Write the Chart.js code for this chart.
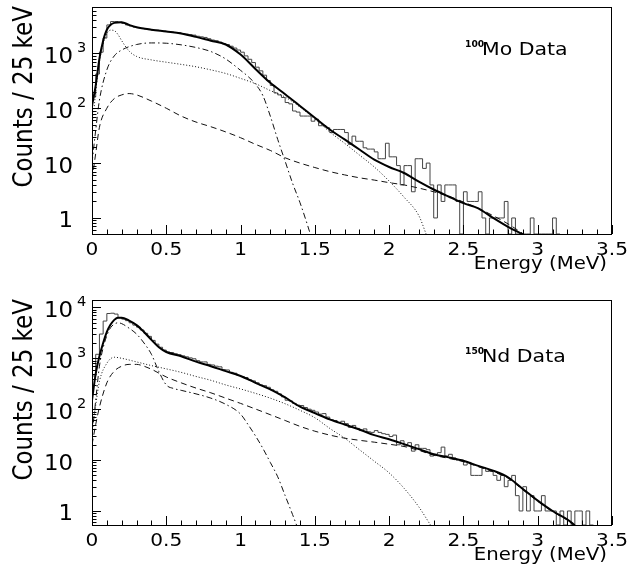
<!DOCTYPE html>
<html lang="en">
  <head>
    <meta charset="UTF-8" />
    <title>100Mo and 150Nd energy spectra</title>
    <script src="https://cdn.jsdelivr.net/npm/chart.js"></script>
    <style>
      * {
        margin: 0;
        padding: 0;
        box-sizing: border-box;
      }
      body {
        background-color: #ffffff;
        width: 631px;
        height: 581px;
        overflow: hidden;
      }
      canvas {
        display: block;
      }
    </style>
  </head>
  <body>
    <canvas id="moChart" width="631" height="290"></canvas>
    <canvas id="ndChart" width="631" height="291"></canvas>

    <script>
      // histogram bin width (MeV), counts per 25 keV bin starting at 0
      const binWidth = 0.025;

      const xTicks = [0, 0.5, 1, 1.5, 2, 2.5, 3, 3.5];
      const xTickLabels = ["0", "0.5", "1", "1.5", "2", "2.5", "3", "3.5"];
      const moYTicks = [1, 10, 100, 1000];
      const moYTickLabels = ["1", "10", "10^2", "10^3"];
      const ndYTicks = [1, 10, 100, 1000, 10000];
      const ndYTickLabels = ["1", "10", "10^2", "10^3", "10^4"];

      // ---- 100Mo ----
      const moCounts = [
        160, 420, 1050, 1900, 3300, 3800, 3800, 3700, 3500, 3300,
        3150, 3000, 2950, 2850, 2800, 2700, 2650, 2650, 2600, 2550,
        2500, 2450, 2400, 2380, 2300, 2250, 2200, 2150, 2050, 2000,
        1950, 1850, 1750, 1700, 1600, 1500, 1450, 1350, 1250, 1150,
        1050, 900, 780, 680, 560, 480, 400, 320, 260, 190,
        175, 157, 127, 120, 89, 85, 72, 72, 72, 58,
        63, 48, 48, 44, 36, 41, 41, 41, 36, 22,
        31, 25, 25, 19, 18, 18, 16, 12, 12, 23,
        13, 13, 9, 4, 9, 9, 3, 12, 12, 8,
        10, 4, 1, 4, 2, 4, 4, 4, 2, 0,
        3, 2, 2, 2, 3, 1, 0, 1, 1, 1,
        1, 2, 0, 1, 0, 0, 0, 0, 1, 0,
        0, 0, 0, 0, 1, 0,
      ];

      const moTotalE = [0, 0.025, 0.05, 0.075, 0.1, 0.15, 0.2, 0.25, 0.3, 0.4, 0.5, 0.6, 0.7, 0.8, 0.9, 1.0, 1.1, 1.2, 1.3, 1.4, 1.5, 1.6, 1.7, 1.8, 1.9, 2.0, 2.1, 2.2, 2.3, 2.4, 2.5, 2.6, 2.7, 2.8, 2.9];
      const moTotal = [110, 260, 800, 1700, 2700, 3600, 3700, 3300, 3000, 2700, 2500, 2300, 2000, 1700, 1450, 950, 520, 290, 180, 110, 67, 41, 27, 17.7, 11.6, 8.5, 6.6, 4.6, 3.3, 2.46, 1.86, 1.5, 1.0, 0.69, 0.5];

      const moDottedE = [0, 0.025, 0.05, 0.075, 0.1, 0.125, 0.15, 0.175, 0.2, 0.25, 0.3, 0.4, 0.5, 0.6, 0.7, 0.8, 0.9, 1.0, 1.1, 1.2, 1.3, 1.4, 1.5, 1.6, 1.7, 1.8, 1.9, 2.0, 2.1, 2.2, 2.25];
      const moDotted = [40, 200, 700, 1500, 2300, 2650, 2600, 2200, 1700, 1100, 880, 760, 690, 630, 570, 500, 430, 350, 280, 210, 160, 105, 64, 37, 23, 14, 8.5, 4.7, 2.4, 1.1, 0.5];

      const moDashDotE = [0, 0.025, 0.05, 0.1, 0.15, 0.2, 0.3, 0.4, 0.5, 0.6, 0.7, 0.8, 0.9, 1.0, 1.05, 1.1, 1.15, 1.2, 1.25, 1.3, 1.35, 1.4, 1.45, 1.47];
      const moDashDot = [10, 40, 140, 500, 900, 1150, 1450, 1550, 1530, 1430, 1280, 1080, 790, 490, 380, 276, 170, 72, 27, 10.8, 4.3, 1.9, 0.75, 0.5];

      const moDashedE = [0, 0.025, 0.05, 0.1, 0.15, 0.2, 0.25, 0.3, 0.4, 0.5, 0.6, 0.7, 0.8, 0.9, 1.0, 1.1, 1.2, 1.3, 1.4, 1.5, 1.6, 1.7, 1.8, 1.9, 2.0, 2.1, 2.2, 2.3, 2.4, 2.5, 2.6, 2.7, 2.8, 2.9];
      const moDashed = [5, 15, 45, 100, 150, 175, 185, 175, 135, 100, 72, 56, 46, 37, 29, 22, 17, 12.5, 10, 8.3, 7, 6.1, 5.4, 4.9, 4.4, 4.0, 3.5, 3.0, 2.5, 1.95, 1.5, 1.1, 0.78, 0.52];

      // ---- 150Nd ----
      const ndCounts = [
        450, 1200, 3000, 5400, 7600, 7700, 7400, 6300, 5900, 5500,
        5000, 4500, 4100, 3600, 3100, 2700, 2250, 1900, 1650, 1450,
        1330, 1300, 1230, 1180, 1120, 1070, 1020, 980, 900, 850,
        850, 760, 740, 700, 680, 600, 590, 530, 510, 460,
        440, 420, 380, 360, 330, 300, 290, 270, 240, 225,
        200, 175, 150, 145, 130, 120, 118, 108, 100, 95,
        88, 80, 82, 70, 62, 60, 55, 58, 52, 44,
        48, 42, 38, 41, 36, 35, 38, 35, 33, 32,
        29, 31, 20, 24, 19, 22, 15, 20, 17, 17,
        16, 12, 13, 14, 18, 12, 13, 11, 10, 10,
        8, 9, 5, 5, 5, 7, 6, 6, 5, 4,
        5, 3, 4, 5, 2, 1, 3, 1, 2, 1,
        1, 2, 1, 1, 1, 0, 1, 0, 1, 0,
        1, 1, 0, 1, 0,
      ];

      const ndTotalE = [0, 0.025, 0.05, 0.075, 0.1, 0.125, 0.15, 0.175, 0.2, 0.25, 0.3, 0.35, 0.4, 0.45, 0.5, 0.6, 0.7, 0.8, 0.9, 1.0, 1.1, 1.2, 1.3, 1.4, 1.5, 1.6, 1.7, 1.8, 1.9, 2.0, 2.1, 2.2, 2.3, 2.4, 2.5, 2.6, 2.7, 2.8, 2.9, 3.0, 3.1, 3.2, 3.25];
      const ndTotal = [150, 500, 1100, 2000, 3300, 4600, 5700, 6300, 6300, 5500, 4500, 3300, 2300, 1650, 1330, 1100, 860, 700, 560, 450, 330, 245, 170, 112, 84, 63, 50, 40, 31, 25.7, 20.6, 16.4, 13, 11.3, 9.7, 7.7, 6.2, 4.6, 2.7, 1.6, 1.0, 0.68, 0.52];

      const ndDottedE = [0, 0.025, 0.05, 0.1, 0.15, 0.2, 0.3, 0.4, 0.5, 0.6, 0.7, 0.8, 0.9, 1.0, 1.1, 1.2, 1.3, 1.4, 1.5, 1.6, 1.7, 1.8, 1.9, 2.0, 2.1, 2.2, 2.28];
      const ndDotted = [40, 120, 350, 800, 1050, 1000, 850, 720, 620, 530, 440, 370, 300, 250, 205, 165, 128, 95, 68, 42, 27, 16, 9.5, 5.6, 2.8, 1.2, 0.52];

      const ndDashDotE = [0, 0.025, 0.05, 0.075, 0.1, 0.125, 0.15, 0.175, 0.2, 0.25, 0.3, 0.35, 0.4, 0.45, 0.5, 0.55, 0.6, 0.7, 0.8, 0.9, 1.0, 1.05, 1.1, 1.15, 1.2, 1.25, 1.3, 1.35, 1.38];
      const ndDashDot = [30, 150, 700, 1600, 2800, 4000, 4700, 5000, 4800, 3900, 3000, 2000, 1200, 550, 300, 255, 235, 200, 165, 125, 80, 50, 30, 17, 9, 4.7, 2.0, 0.85, 0.5];

      const ndDashedE = [0, 0.025, 0.05, 0.1, 0.15, 0.2, 0.25, 0.3, 0.35, 0.4, 0.5, 0.6, 0.7, 0.8, 0.9, 1.0, 1.1, 1.2, 1.3, 1.4, 1.5, 1.6, 1.7, 1.8, 1.9, 2.0, 2.1, 2.2, 2.3, 2.4, 2.5, 2.6, 2.7, 2.8, 2.9, 3.0, 3.1, 3.2, 3.25];
      const ndDashed = [20, 50, 110, 330, 560, 700, 760, 760, 700, 610, 430, 330, 260, 210, 165, 130, 101, 78, 60, 46, 37, 31, 27, 24.5, 22.5, 20.5, 18.5, 15.5, 12.5, 10.8, 9.3, 7.4, 5.9, 4.4, 2.6, 1.55, 0.97, 0.66, 0.52];

      const FONT = '"DejaVu Sans", "Liberation Sans", sans-serif';

      function toPoints(xs, ys) {
        return xs.map((x, i) => ({ x: x, y: ys[i] }));
      }

      // step outline of a histogram, empty bins sit on the axis floor
      function histPoints(counts, floor) {
        const pts = [{ x: 0, y: floor }];
        counts.forEach((c, i) => pts.push({ x: i * binWidth, y: c > 0 ? c : floor }));
        pts.push({ x: counts.length * binWidth, y: floor });
        return pts;
      }

      function drawText(ctx, s, x, y, size, stretch, align, weight) {
        ctx.save();
        ctx.translate(x, y);
        ctx.scale(stretch, 1);
        ctx.font = (weight || "normal") + " " + size + "px " + FONT;
        ctx.textAlign = align;
        ctx.textBaseline = "alphabetic";
        ctx.fillStyle = "#000";
        ctx.fillText(s, 0, 0);
        ctx.restore();
      }

      function line(ctx, x1, y1, x2, y2) {
        ctx.beginPath();
        ctx.moveTo(x1, y1);
        ctx.lineTo(x2, y2);
        ctx.stroke();
      }

      // frame, inward ticks, tick labels, axis titles and the panel label
      const rootFrame = {
        id: "rootFrame",
        afterDraw(chart, args, opts) {
          const { ctx, chartArea: a } = chart;
          const xs = chart.scales.x;
          const ys = chart.scales.y;
          ctx.save();
          ctx.strokeStyle = "#000";
          ctx.lineWidth = 1;
          ctx.strokeRect(a.left + 0.5, a.top + 0.5, a.right - a.left - 1, a.bottom - a.top);

          // x ticks every 0.1 MeV, long ones every 0.5
          for (let k = 0; k <= 35; k++) {
            const px = Math.round(xs.getPixelForValue(k / 10)) + 0.5;
            const len = k % 5 === 0 ? 9 : 4.5;
            line(ctx, px, a.bottom, px, a.bottom - len);
          }
          // y ticks on log scale
          for (let d = -1; d <= 4; d++) {
            for (let k = 1; k <= 9; k++) {
              const v = k * Math.pow(10, d);
              if (v < ys.min || v > ys.max) continue;
              const py = Math.round(ys.getPixelForValue(v)) + 0.5;
              line(ctx, a.left, py, a.left + (k === 1 ? 9 : 4.5), py);
            }
          }
          ctx.restore();

          xTicks.forEach((v, i) => {
            drawText(ctx, xTickLabels[i], xs.getPixelForValue(v), a.bottom + 21, 18.3, 1.1, "center");
          });

          opts.yTicks.forEach((v, i) => {
            const py = ys.getPixelForValue(v);
            const [base, exp] = opts.yLabels[i].split("^");
            drawText(ctx, base, 73, py + 9.5, 22, 1.04, "right");
            if (exp) drawText(ctx, exp, 77, py - 1.5, 14, 1.04, "left");
          });

          // axis titles
          ctx.save();
          ctx.translate(32, a.top - 1);
          ctx.rotate(-Math.PI / 2);
          ctx.scale(1, 1.13);
          ctx.font = "23px " + FONT;
          ctx.textAlign = "right";
          ctx.fillStyle = "#000";
          ctx.fillText("Counts / 25 keV", 0, 0);
          ctx.restore();
          drawText(ctx, "Energy (MeV)", a.right - 5, a.bottom + 34.5, 17, 1.16, "right");

          // isotope label
          drawText(ctx, opts.isotope, 465, opts.labelY - 8, 9.2, 1, "left", "bold");
          drawText(ctx, opts.label, 482, opts.labelY, 18.3, 1.12, "left");
        },
      };

      function makeDatasets(counts, floor, curves) {
        const base = { pointRadius: 0, fill: false, borderColor: "#111", borderWidth: 1 };
        return [
          Object.assign({}, base, { data: toPoints(curves.totalE, curves.total), borderColor: "#000", borderWidth: 2, cubicInterpolationMode: "monotone" }),
          Object.assign({}, base, { data: toPoints(curves.dottedE, curves.dotted), borderDash: [1, 2], cubicInterpolationMode: "monotone" }),
          Object.assign({}, base, { data: toPoints(curves.dashDotE, curves.dashDot), borderDash: [6, 3, 1.5, 3], cubicInterpolationMode: "monotone" }),
          Object.assign({}, base, { data: toPoints(curves.dashedE, curves.dashed), borderDash: [6, 4], cubicInterpolationMode: "monotone" }),
          Object.assign({}, base, { data: histPoints(counts, floor), borderColor: "#444", stepped: true, tension: 0 }),
        ];
      }

      function createSpectrum(canvasId, counts, curves, yMin, yMax, topPad, frameOpts) {
        new Chart(document.getElementById(canvasId), {
          type: "line",
          data: { datasets: makeDatasets(counts, yMin, curves) },
          options: {
            responsive: false,
            animation: false,
            events: [],
            layout: { padding: { left: 92, right: 19, top: topPad, bottom: 56 } },
            scales: {
              x: { type: "linear", min: 0, max: 3.5, display: false },
              y: { type: "logarithmic", min: yMin, max: yMax, display: false },
            },
            plugins: {
              legend: { display: false },
              tooltip: { enabled: false },
              rootFrame: frameOpts,
            },
          },
          plugins: [rootFrame],
        });
      }

      window.onload = () => {
        createSpectrum(
          "moChart",
          moCounts,
          {
            totalE: moTotalE, total: moTotal,
            dottedE: moDottedE, dotted: moDotted,
            dashDotE: moDashDotE, dashDot: moDashDot,
            dashedE: moDashedE, dashed: moDashed,
          },
          0.51, 7000, 7,
          { yTicks: moYTicks, yLabels: moYTickLabels, isotope: "100", label: "Mo Data", labelY: 55 }
        );
        createSpectrum(
          "ndChart",
          ndCounts,
          {
            totalE: ndTotalE, total: ndTotal,
            dottedE: ndDottedE, dotted: ndDotted,
            dashDotE: ndDashDotE, dashDot: ndDashDot,
            dashedE: ndDashedE, dashed: ndDashed,
          },
          0.53, 14000, 10,
          { yTicks: ndYTicks, yLabels: ndYTickLabels, isotope: "150", label: "Nd Data", labelY: 72 }
        );
      };
    </script>
  </body>
</html>
